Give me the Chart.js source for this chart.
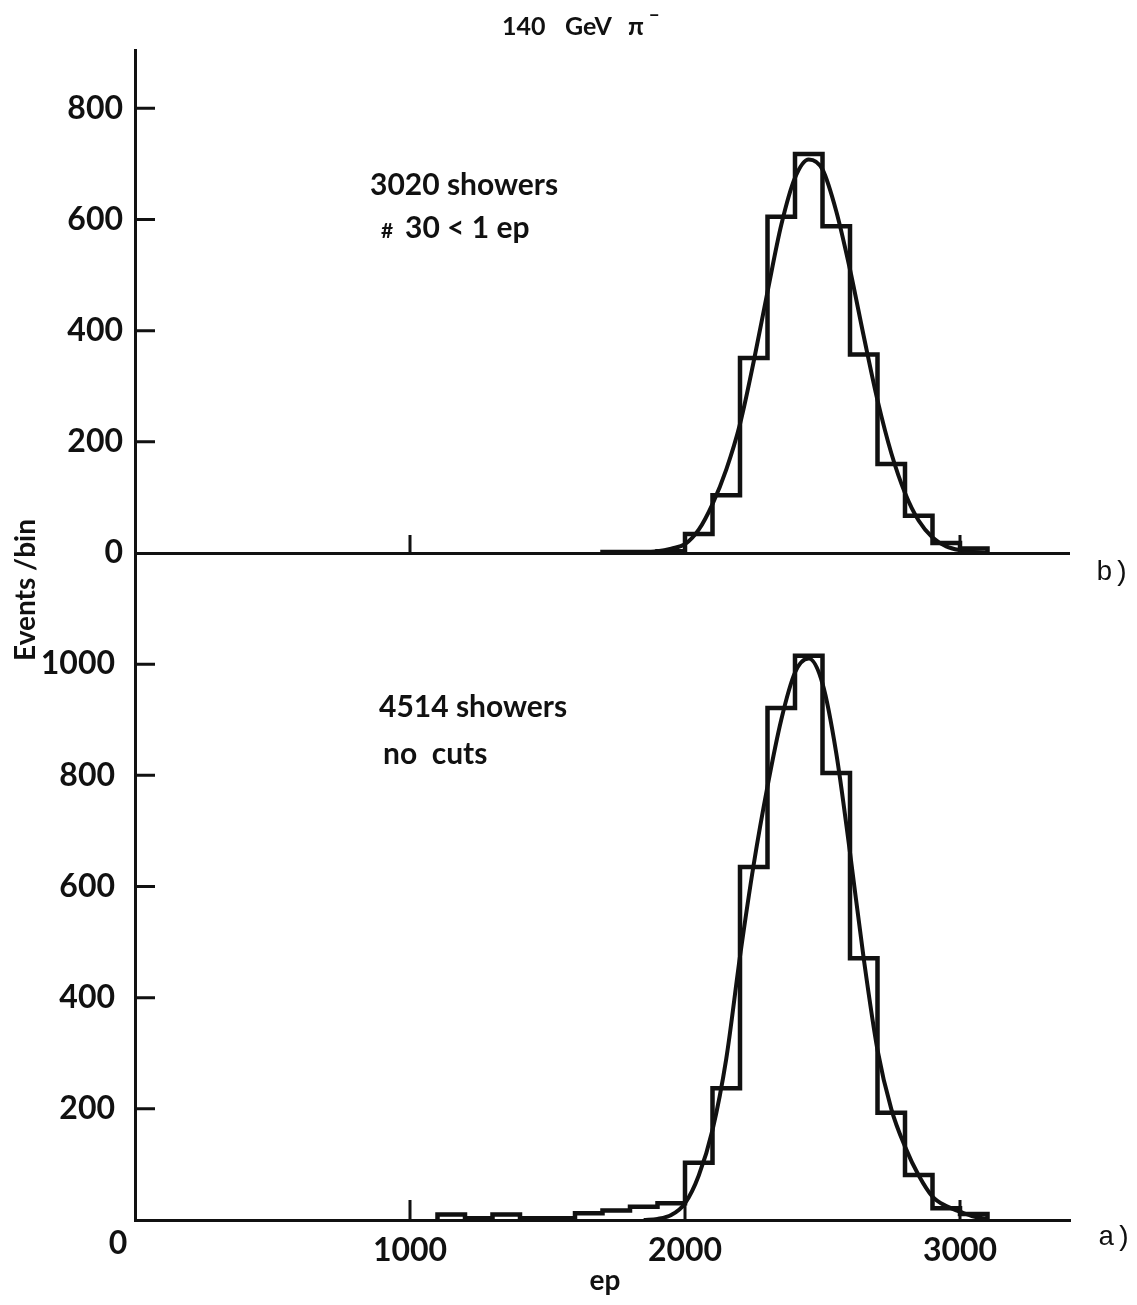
<!DOCTYPE html>
<html>
<head>
<meta charset="utf-8">
<script src="https://cdn.jsdelivr.net/npm/chart.js@4.4.0/dist/chart.umd.min.js"></script>
<style>
  html, body { margin: 0; padding: 0; background: #fff; }
  #wrap { width: 1137px; height: 1305px; }
</style>
</head>
<body>
<div id="wrap"><canvas id="chart" width="1137" height="1305"></canvas></div>
<script>
// histogram bins: lower edge in ep, 100 ep wide
const binWidth = 100;

// b) 3020 showers, # 30 < 1 ep
const binsB = [1700, 1800, 1900, 2000, 2100, 2200, 2300, 2400, 2500, 2600, 2700, 2800, 2900, 3000];
const countsB = [2, 2, 3, 34, 104, 351, 605, 718, 588, 357, 160, 67, 18, 8];

// a) 4514 showers, no cuts
const binsA = [1100, 1200, 1300, 1400, 1500, 1600, 1700, 1800, 1900, 2000, 2100, 2200, 2300, 2400, 2500, 2600, 2700, 2800, 2900, 3000];
const countsA = [10, 3, 10, 3, 3, 12, 17, 24, 30, 103, 237, 635, 921, 1015, 804, 471, 193, 81, 21, 11];

// fitted curves, read every 50 ep
const fitX = [1850, 1900, 1950, 2000, 2050, 2100, 2150, 2200, 2250, 2300, 2350, 2400, 2450,
              2500, 2550, 2600, 2650, 2700, 2750, 2800, 2850, 2900, 2950, 3000, 3050, 3100];
const fitB = [1, 3, 8, 16, 42, 88, 150, 232, 345, 470, 590, 675, 708,
              690, 615, 510, 390, 275, 180, 108, 58, 28, 12, 5, 2, 0];
const fitA = [0, 2, 9, 30, 80, 162, 290, 474, 640, 780, 900, 985, 1010,
              965, 840, 661, 470, 306, 200, 132, 80, 42, 25, 15, 6, 2];

const yTicksB = [0, 200, 400, 600, 800];
const yTicksA = [200, 400, 600, 800, 1000];
const xTicks = [1000, 2000, 3000];

const ink = '#111';
const face = 'Lato, "DejaVu Sans", sans-serif';

function outline(bins, counts) {
  const pts = [{x: bins[0], y: 0}];
  bins.forEach((b, i) => pts.push({x: b, y: counts[i]}));
  pts.push({x: bins[bins.length - 1] + binWidth, y: 0});
  return pts;
}

function curve(xs, ys) {
  return xs.map((x, i) => ({x: x, y: ys[i]}));
}

const histStyle = {stepped: 'before', borderColor: ink, borderWidth: 4.5, pointRadius: 0, fill: false};
const fitStyle = {cubicInterpolationMode: 'monotone', borderColor: ink, borderWidth: 4, pointRadius: 0, fill: false};

// inward tick marks and all the free text
const paperMarks = {
  id: 'paperMarks',
  afterDraw(chart) {
    const {ctx, chartArea, scales} = chart;
    const x = scales.x, yB = scales.yB, yA = scales.yA;
    ctx.save();
    ctx.strokeStyle = ink;
    ctx.lineWidth = 3;
    ctx.beginPath();
    yTicksB.slice(1).forEach(v => {
      const py = yB.getPixelForValue(v);
      ctx.moveTo(chartArea.left, py);
      ctx.lineTo(chartArea.left + 20, py);
    });
    yTicksA.forEach(v => {
      const py = yA.getPixelForValue(v);
      ctx.moveTo(chartArea.left, py);
      ctx.lineTo(chartArea.left + 20, py);
    });
    xTicks.forEach(v => {
      const px = x.getPixelForValue(v);
      ctx.moveTo(px, yB.getPixelForValue(0));
      ctx.lineTo(px, yB.getPixelForValue(0) - 18);
      ctx.moveTo(px, yA.getPixelForValue(0));
      ctx.lineTo(px, yA.getPixelForValue(0) - 20);
    });
    ctx.stroke();

    ctx.fillStyle = ink;
    ctx.textBaseline = 'alphabetic';
    ctx.textAlign = 'left';

    // title
    ctx.font = 'bold 25px ' + face;
    ctx.fillText('140', 502, 35);
    ctx.fillText('GeV', 565, 35);
    ctx.fillText('π', 628, 35);
    ctx.font = 'bold 18px ' + face;
    ctx.fillText('−', 649, 22);

    // panel notes
    ctx.font = 'bold 30px ' + face;
    ctx.fillText('3020 showers', 370, 195);
    ctx.font = 'bold 21px ' + face;
    ctx.fillText('#', 381, 238);
    ctx.font = 'bold 30px ' + face;
    ctx.fillText('30 < 1 ep', 405, 238);
    ctx.fillText('4514 showers', 379, 717);
    ctx.fillText('no  cuts', 383, 764);

    // panel letters
    ctx.font = '28px "Liberation Mono", monospace';
    ctx.fillText('b)', 1096, 580);
    ctx.fillText('a)', 1098, 1245);

    // x origin label
    ctx.font = 'bold 32px ' + face;
    ctx.textAlign = 'center';
    ctx.fillText('0', x.getPixelForValue(0) - 17, 1254);

    // axis titles
    ctx.font = 'bold 28px ' + face;
    ctx.fillText('ep', 605, 1290);
    ctx.translate(35, 590);
    ctx.rotate(-Math.PI / 2);
    ctx.fillText('Events /bin', 0, 0);
    ctx.restore();
  }
};

const tickFont = {family: face, size: 32, weight: 'bold'};
const plain = v => String(v);

new Chart(document.getElementById('chart'), {
  type: 'line',
  data: {
    datasets: [
      Object.assign({data: outline(binsB, countsB), yAxisID: 'yB'}, histStyle),
      Object.assign({data: curve(fitX, fitB), yAxisID: 'yB'}, fitStyle),
      Object.assign({data: outline(binsA, countsA), yAxisID: 'yA'}, histStyle),
      Object.assign({data: curve(fitX, fitA), yAxisID: 'yA'}, fitStyle)
    ]
  },
  options: {
    responsive: false,
    animation: false,
    layout: {padding: {top: 50, right: 67, left: 0, bottom: 0}},
    plugins: {legend: {display: false}, tooltip: {enabled: false}},
    scales: {
      x: {
        type: 'linear',
        min: 0,
        max: 3400,
        grid: {display: false},
        border: {color: ink, width: 3},
        afterBuildTicks: s => { s.ticks = xTicks.map(v => ({value: v})); },
        ticks: {autoSkip: false, maxRotation: 0, padding: 3, color: ink, font: tickFont, callback: plain},
        afterFit: s => { s.height = 85; }
      },
      yA: {
        type: 'linear',
        position: 'left',
        stack: 'panels',
        stackWeight: 1200,
        min: 0,
        max: 1200,
        grid: {display: false},
        border: {color: ink, width: 3},
        afterBuildTicks: s => { s.ticks = yTicksA.map(v => ({value: v})); },
        ticks: {autoSkip: false, padding: 12, color: ink, font: tickFont, callback: plain},
        afterFit: s => { s.width = 135; }
      },
      yB: {
        type: 'linear',
        position: 'left',
        stack: 'panels',
        stackWeight: 905,
        min: 0,
        max: 905,
        grid: {
          drawTicks: false,
          lineWidth: 3,
          color: c => (c.tick && c.tick.value === 0) ? ink : 'rgba(0,0,0,0)'
        },
        border: {color: ink, width: 3},
        afterBuildTicks: s => { s.ticks = yTicksB.map(v => ({value: v})); },
        ticks: {autoSkip: false, padding: 12, color: ink, font: tickFont, callback: plain},
        afterFit: s => { s.width = 135; }
      }
    }
  },
  plugins: [paperMarks]
});
</script>
</body>
</html>
